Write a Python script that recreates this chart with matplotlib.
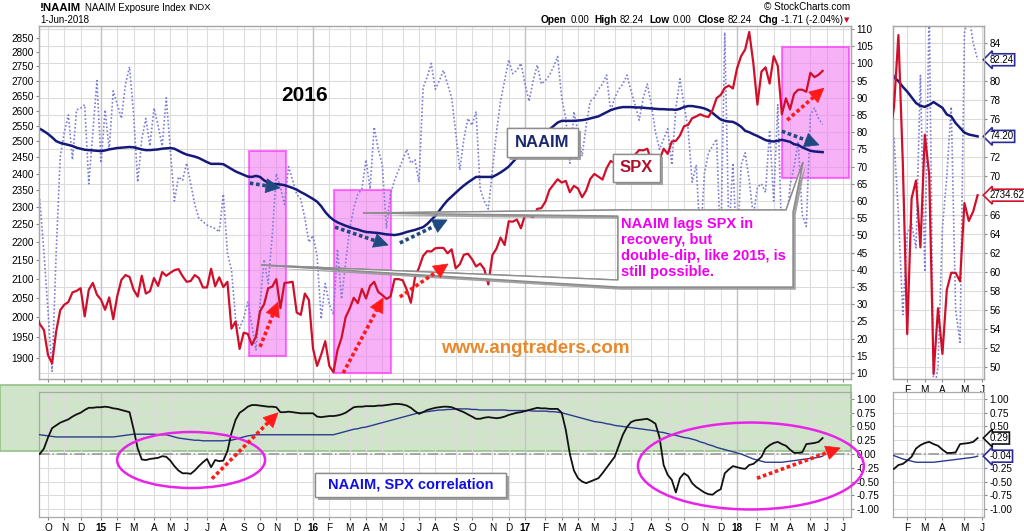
import datetime as dt
import matplotlib
matplotlib.use('Agg')
import matplotlib.pyplot as plt
import matplotlib.patches as mpatches
import matplotlib.patheffects as pe
from matplotlib.ticker import FixedLocator, FixedFormatter, NullLocator
import numpy as np

plt.rcParams['font.family'] = ['Liberation Sans', 'DejaVu Sans']

# weekly data, first point = Friday 19-Sep-2014, last = 1-Jun-2018
first_friday = dt.date(2014, 9, 19)

spx = [2010, 1982, 1968, 1906, 1886, 1964, 2018, 2032, 2039, 2064, 2068, 2075, 2002, 2071, 2089, 2058,
       2045, 2019, 2051, 1995, 2055, 2097, 2110, 2105, 2071, 2053, 2108, 2061, 2067, 2102, 2081, 2118,
       2108, 2116, 2123, 2126, 2107, 2092, 2094, 2110, 2102, 2077, 2077, 2127, 2080, 2104, 2078, 2092,
       1971, 1989, 1921, 1961, 1958, 1931, 1951, 2015, 2033, 2075, 2079, 2099, 2023, 2089, 2090, 2092,
       2012, 2006, 2061, 2044, 1922, 1880, 1907, 1940, 1880, 1865, 1918, 1948, 2000, 2022, 2050, 2036,
       2073, 2048, 2081, 2092, 2065, 2057, 2047, 2053, 2099, 2099, 2096, 2071, 2037, 2103, 2130, 2162,
       2175, 2174, 2183, 2184, 2184, 2169, 2180, 2128, 2139, 2165, 2168, 2153, 2133, 2141, 2126, 2085,
       2164, 2182, 2213, 2192, 2259, 2258, 2264, 2239, 2277, 2275, 2271, 2295, 2297, 2316, 2351, 2367,
       2383, 2373, 2378, 2344, 2363, 2355, 2329, 2349, 2384, 2399, 2391, 2382, 2416, 2439, 2432, 2433,
       2438, 2423, 2425, 2459, 2473, 2472, 2477, 2441, 2426, 2443, 2477, 2461, 2500, 2502, 2519, 2549,
       2553, 2575, 2581, 2588, 2582, 2579, 2602, 2642, 2652, 2676, 2684, 2674, 2743, 2786, 2810, 2873,
       2762, 2620, 2732, 2747, 2691, 2786, 2752, 2588, 2641, 2604, 2656, 2670, 2670, 2663, 2728, 2713,
       2721, 2734.62]

naaim = [66, 60, 45, 28, 10.5, 45, 73, 80, 85, 72, 86.5, 87, 88, 65, 80, 95,
         71, 86.5, 75, 92, 88, 84, 94, 99, 85, 65.5, 78, 84, 76, 87, 82, 76,
         90, 75, 60, 67, 66, 71, 65, 59, 55, 54, 53, 52.5, 52, 51, 62, 45,
         40, 25.7, 23, 26, 30.6, 24, 16.7, 30, 43, 36, 50, 68, 64, 59, 70, 66,
         62, 60.5, 55, 48, 50, 44, 25.7, 36, 30, 27, 46, 31.5, 42, 52, 58, 62,
         63.5, 72, 63.5, 81.5, 75, 70.5, 52, 62, 66, 69, 72, 75, 71, 72, 65.5, 93,
         96, 100, 92.5, 95, 98, 94, 90, 80, 69, 78, 84, 82, 86, 63.5, 60, 57.7,
         69, 80, 89, 95, 101, 97, 98, 100, 94, 89, 95, 99.5, 94, 95, 96.6, 99,
         102, 90, 84, 71, 86, 80, 73, 82, 89, 90, 92.5, 94, 96.6, 86, 90, 92.5,
         94, 96.6, 92, 88, 83.5, 90, 94, 88, 80, 75, 78, 81, 70.5, 87, 95.5, 88,
         81, 65.5, 70.5, 48, 68, 74, 76, 78, 45, 109, 50, 71, 44, 70.5, 74, 66,
         55.5, 64, 65, 62.5, 80.6, 60, 88, 47, 50, 64.6, 70, 77.3, 56, 52.6, 85, 87,
         84, 82.24]

naaim_ma = [81.5, 81, 80.3, 79.5, 78.5, 77.4, 76.9, 76.6, 76.3, 76, 75.5, 75.2, 74.9, 74.8, 74.7, 74.6,
            74.5, 74.7, 75, 75.2, 75.4, 75.5, 75.6, 75.7, 75.6, 75.3, 75, 74.8, 74.8, 74.9, 75, 75.2,
            75.3, 75.4, 75.2, 74.6, 74, 73.5, 73.2, 72.9, 72.5, 71.9, 71.3, 70.8, 70.8, 70.8, 70.7, 70,
            69.3, 68.6, 68.1, 67.6, 67.1, 67, 67.3, 67, 66, 65.3, 65, 64.9, 64.8, 64.6, 64.2, 63.8,
            63.3, 62.6, 62, 61.3, 60.6, 59.8, 58.5, 56.8, 55.5, 54.5, 53.8, 53.3, 52.8, 52.4, 52, 51.7,
            51.3, 51, 50.9, 50.8, 50.7, 50.5, 50.3, 50.2, 50.1, 50.3, 50.6, 51, 51.3, 51.6, 52, 52.4,
            53.3, 54.5, 55.7, 57.2, 58.8, 60.2, 61.3, 62.4, 63.5, 64.5, 65.4, 66.2, 67, 67, 67, 67,
            67, 67.6, 68.3, 69.1, 70, 71.3, 72.6, 73.6, 75, 76.2, 77.2, 78.2, 79, 79.8, 80.8, 81.8,
            82.8, 83.3, 83.3, 83.3, 83.3, 83.4, 83.5, 83.7, 84, 84.3, 84.6, 85.2, 85.8, 86.4, 86.8, 87.1,
            87.3, 87.3, 87.3, 87.2, 87.2, 87.1, 87, 86.9, 86.8, 86.7, 86.7, 86.6, 86.6, 86.5, 86.8, 87.3,
            87.6, 87.6, 87.4, 87.2, 86.9, 86.4, 85.6, 84.6, 83.7, 83.3, 83.1, 83, 82.4, 81.6, 80.4, 80,
            79.4, 78.9, 78.3, 77.7, 77.4, 77.3, 77.5, 77.8, 77.5, 77.2, 76.5, 76.3, 75.6, 75.1, 74.6, 74.4,
            74.3, 74.2]

corr_short = [0, 0, 0.1, 0.3, 0.47, 0.52, 0.57, 0.6, 0.63, 0.68, 0.72, 0.75, 0.8, 0.84, 0.84, 0.85,
              0.85, 0.86, 0.85, 0.83, 0.82, 0.8, 0.78, 0.76, 0.45, 0.1, -0.1, -0.11, -0.09, -0.08, -0.07, -0.04,
              -0.05, -0.12, -0.22, -0.3, -0.35, -0.35, -0.36, -0.3, -0.22, -0.15, -0.09, -0.24, -0.11, -0.13, -0.12, 0.05,
              0.38, 0.62, 0.75, 0.8, 0.86, 0.89, 0.89, 0.88, 0.87, 0.86, 0.86, 0.85, 0.76, 0.76, 0.77, 0.76,
              0.75, 0.74, 0.74, 0.74, 0.74, 0.68, 0.67, 0.68, 0.69, 0.69, 0.7, 0.72, 0.75, 0.8, 0.85, 0.86,
              0.86, 0.87, 0.87, 0.87, 0.88, 0.88, 0.89, 0.9, 0.91, 0.91, 0.9, 0.88, 0.84, 0.78, 0.73, 0.76,
              0.8, 0.82, 0.84, 0.85, 0.86, 0.86, 0.85, 0.82, 0.79, 0.76, 0.72, 0.68, 0.64, 0.64, 0.66, 0.67,
              0.66, 0.65, 0.66, 0.68, 0.71, 0.73, 0.75, 0.76, 0.78, 0.8, 0.82, 0.84, 0.83, 0.83, 0.82, 0.82,
              0.82, 0.75, 0.44, 0.0, -0.3, -0.44, -0.5, -0.53, -0.5, -0.47, -0.44, -0.35, -0.25, -0.15, -0.05, 0.15,
              0.35, 0.49, 0.58, 0.61, 0.62, 0.63, 0.64, 0.6, 0.55, 0.3, -0.2, -0.38, -0.47, -0.7, -0.44, -0.35,
              -0.4, -0.53, -0.6, -0.65, -0.7, -0.73, -0.74, -0.68, -0.64, -0.35, -0.28, -0.22, -0.24, -0.26, -0.27, -0.2,
              -0.18, -0.12, -0.05, 0.1, 0.16, 0.2, 0.22, 0.18, 0.15, 0.08, 0.02, 0.02, 0.03, 0.18, 0.19, 0.2,
              0.22, 0.29]

corr_long = [0.35, 0.35, 0.34, 0.33, 0.32, 0.31, 0.31, 0.31, 0.31, 0.31, 0.31, 0.31, 0.31, 0.31, 0.31, 0.31,
             0.31, 0.31, 0.31, 0.31, 0.32, 0.33, 0.34, 0.35, 0.36, 0.36, 0.36, 0.36, 0.36, 0.36, 0.35, 0.35,
             0.35, 0.33, 0.31, 0.29, 0.28, 0.27, 0.26, 0.25, 0.25, 0.24, 0.24, 0.24, 0.24, 0.24, 0.24, 0.25,
             0.25, 0.27, 0.29, 0.31, 0.33, 0.34, 0.35, 0.35, 0.35, 0.35, 0.35, 0.35, 0.35, 0.35, 0.35, 0.35,
             0.35, 0.35, 0.35, 0.35, 0.35, 0.35, 0.35, 0.35, 0.35, 0.35, 0.37, 0.39, 0.41, 0.43, 0.45, 0.46,
             0.48, 0.49, 0.51, 0.53, 0.55, 0.57, 0.59, 0.61, 0.63, 0.65, 0.67, 0.69, 0.71, 0.73, 0.75, 0.76,
             0.77, 0.78, 0.79, 0.8, 0.8, 0.81, 0.81, 0.82, 0.82, 0.82, 0.82, 0.81, 0.81, 0.8, 0.8, 0.8,
             0.8, 0.8, 0.8, 0.8, 0.79, 0.79, 0.79, 0.79, 0.79, 0.79, 0.78, 0.78, 0.78, 0.78, 0.77, 0.77,
             0.76, 0.75, 0.73, 0.71, 0.69, 0.67, 0.65, 0.63, 0.61, 0.59, 0.58, 0.57, 0.55, 0.54, 0.52, 0.51,
             0.5, 0.49, 0.48, 0.47, 0.46, 0.45, 0.44, 0.43, 0.42, 0.4, 0.39, 0.37, 0.35, 0.34, 0.32, 0.3,
             0.29, 0.27, 0.25, 0.22, 0.2, 0.17, 0.15, 0.12, 0.1, 0.08, 0.06, 0.04, 0.02, 0, -0.03, -0.06,
             -0.09, -0.11, -0.13, -0.15, -0.15, -0.15, -0.15, -0.15, -0.14, -0.13, -0.12, -0.11, -0.1, -0.09, -0.08, -0.07,
             -0.06, -0.04]

naaim_ticks = list(range(10, 111, 5))
spx_ticks = list(range(1900, 2851, 50))
naaim_small_ticks = list(range(50, 85, 2))
corr_ticks = [1.0, 0.75, 0.5, 0.25, 0.0, -0.25, -0.5, -0.75, -1.0]

weeks = np.arange(len(spx))

# month labels: placed on the first weekly bar whose week starts in that month
month_k, month_txt, month_bold = [], [], []
for k in range(1, 200):
    mon = first_friday + dt.timedelta(days=7 * k - 4)
    prev = first_friday + dt.timedelta(days=7 * (k - 1) - 4)
    if mon.month != prev.month:
        month_k.append(k)
        if mon.month == 1:
            month_txt.append(str(mon.year)[2:])
            month_bold.append(True)
        else:
            month_txt.append('JFMAMJJASOND'[mon.month - 1])
            month_bold.append(False)

W, H = 1024, 531
fig = plt.figure(figsize=(W / 100, H / 100), dpi=100)
fig.patch.set_facecolor('white')


def px_box(l, t, r, b):
    return [l / W, 1 - b / H, (r - l) / W, (b - t) / H]


GRID = '#dcdcdc'
SPINE = '#a8a8a8'
RED = '#d0102b'
NAVY = '#151a7a'
DOT = '#7b7bd8'
TICK_FS = 7.2


def style_axis(a):
    for s in a.spines.values():
        s.set_color(SPINE)
        s.set_linewidth(0.9)
    a.tick_params(axis='both', labelsize=TICK_FS, length=2, color='#888888', pad=2)


def month_axis(a, lo, hi):
    ks = [k for k in month_k if lo <= k <= hi]
    a.set_xticks(ks)
    a.set_xticklabels([month_txt[month_k.index(k)] for k in ks])
    for lab, k in zip(a.get_xticklabels(), ks):
        if month_bold[month_k.index(k)]:
            lab.set_fontweight('bold')
            lab.set_fontsize(8)
    a.xaxis.grid(True, color=GRID, lw=0.8)
    for k in ks:
        if month_bold[month_k.index(k)]:
            a.axvline(k, color='#c4c4c4', lw=1.0, zorder=0.6)


def dash_arrow(a, p0, p1, color):
    # dotted shaft plus a solid triangular head, built in pixel space
    t = a.transData
    d0, d1 = t.transform(p0), t.transform(p1)
    u = (d1 - d0) / np.hypot(*(d1 - d0))
    nrm = np.array([-u[1], u[0]])
    base = d1 - u * 14
    tri = t.inverted().transform([d1, base + nrm * 7, base - nrm * 7])
    b = t.inverted().transform(base)
    a.plot([p0[0], b[0]], [p0[1], b[1]], color=color, lw=2.6, ls=(0, (1, 0.75)),
           clip_on=False, zorder=7)
    a.add_patch(mpatches.Polygon(tri, closed=True, fc=color, ec=color, lw=0.5, zorder=7, clip_on=False))


def label_box(a, k0, k1, v0, v1, text, color, size):
    r = mpatches.Rectangle((k0, v0), k1 - k0, v1 - v0, fc='white', ec='#8c8c8c', lw=1.0, zorder=5)
    r.set_path_effects([pe.withSimplePatchShadow(offset=(2, -2), shadow_rgbFace='#9a9a9a', alpha=0.9),
                        pe.Normal()])
    a.add_patch(r)
    a.text((k0 + k1) / 2, (v0 + v1) / 2, text, color=color, fontsize=size, fontweight='bold',
           ha='center', va='center', zorder=6)


def value_tag(a, val, text, ec):
    a.annotate(text, xy=(1, val), xycoords=('axes fraction', 'data'), xytext=(4, 0),
               textcoords='offset points', ha='left', va='center', fontsize=7, zorder=10,
               annotation_clip=False,
               bbox=dict(boxstyle='larrow,pad=0.1', fc='white', ec=ec, lw=1.2))


def tick_labels(vals, fmt, hidden):
    # labels sitting under a value tag are covered in the original
    return [('' if v in hidden else fmt % v) for v in vals]


# ---------------- main panel ----------------
xlim_main = (0.79, 199.96)
ax = fig.add_axes(px_box(39, 26, 851, 379))
axs = ax.twinx()
ax.set_xlim(*xlim_main)
ax.set_ylim(8.26, 110.87)
ax.yaxis.tick_right()
ax.set_yticks(naaim_ticks)
ax.yaxis.grid(True, color=GRID, lw=0.8)
ax.set_axisbelow(True)
month_axis(ax, *xlim_main)
style_axis(ax)

# highlight boxes
for (k0, k1, n0, n1) in [(52.3, 61.4, 14.9, 74.5), (73.2, 87.1, 10.0, 63.2), (183.0, 199.4, 66.7, 104.8)]:
    ax.add_patch(mpatches.Rectangle((k0, n0), k1 - k0, n1 - n0, fc='#f27ef2', alpha=0.6,
                                    ec='#ff20ff', lw=1.5, zorder=1.2))

ax.plot(weeks, naaim, color=DOT, lw=1.2, ls=(0, (1, 1.3)), zorder=2)
ax.plot(weeks, naaim_ma, color=NAVY, lw=1.8, zorder=3)

axs.set_yscale('log')
axs.set_ylim(1849, 2895)
axs.yaxis.tick_left()
axs.yaxis.set_major_locator(FixedLocator(spx_ticks))
axs.yaxis.set_major_formatter(FixedFormatter([str(v) for v in spx_ticks]))
axs.yaxis.set_minor_locator(NullLocator())
style_axis(axs)
axs.plot(weeks, spx, color=RED, lw=1.6, zorder=4)

# overlay for annotations (same coordinates as NAAIM axis)
ov = fig.add_axes(px_box(39, 26, 851, 379))
ov.set_xlim(*xlim_main)
ov.set_ylim(8.26, 110.87)
ov.axis('off')
ov.patch.set_visible(False)

BLUE_ARROW = '#1f4a80'
RED_ARROW = '#ff1a1a'
dash_arrow(ov, (52.5, 65.2), (59.9, 63.8), BLUE_ARROW)
dash_arrow(ov, (73.4, 52.4), (86.4, 47.2), BLUE_ARROW)
dash_arrow(ov, (89.3, 47.8), (100.9, 54.5), BLUE_ARROW)
dash_arrow(ov, (183.0, 80.3), (192.1, 76.3), BLUE_ARROW)
dash_arrow(ov, (55.0, 17.6), (59.4, 30.6), RED_ARROW)
dash_arrow(ov, (75.4, 10.0), (85.2, 31.8), RED_ARROW)
dash_arrow(ov, (89.3, 32.1), (101.1, 41.7), RED_ARROW)
dash_arrow(ov, (184.3, 83.5), (193.3, 92.8), RED_ARROW)

# callout with three pointers
callout = [(142.81, 57.38), (80.26, 56.51), (142.81, 55.64), (142.81, 37.03), (55.24, 41.40),
           (142.81, 35.0), (185.73, 35.0), (185.73, 56.8), (188.19, 71.34), (184.02, 57.38)]
poly = mpatches.Polygon(callout, closed=True, fc='white', ec='#8c8c8c', lw=1.0, zorder=5)
poly.set_path_effects([pe.withSimplePatchShadow(offset=(2, -2), shadow_rgbFace='#9a9a9a', alpha=0.9),
                       pe.Normal()])
ov.add_patch(poly)
ov.text(143.5, 46.3, 'NAAIM lags SPX in\nrecovery, but\ndouble-dip, like 2015, is\nstill possible.',
        color='#f000f0', fontsize=10.5, fontweight='bold', ha='left', va='center', zorder=6)

label_box(ov, 115.6, 133.0, 72.8, 81.2, 'NAAIM', '#1a2a6c', 12)
label_box(ov, 141.6, 153.1, 65.5, 73.7, 'SPX', '#b0102b', 12)
ov.text(66.0, 90.8, '2016', fontsize=15, fontweight='bold', ha='center', va='center')
ov.text(122.5, 17.0, 'www.angtraders.com', color='#e8892c', fontsize=13.5, fontweight='bold',
        ha='center', va='center')

# ---------------- small main panel ----------------
xlim_small = (173.77, 194.45)
axr = fig.add_axes(px_box(893, 26, 984, 379))
axrs = axr.twinx()
axr.set_xlim(*xlim_small)
axr.set_ylim(48.75, 85.78)
axr.yaxis.tick_right()
axr.set_yticks(naaim_small_ticks)
axr.set_yticklabels(tick_labels(naaim_small_ticks, '%d', (82, 74, 68)))
axr.yaxis.grid(True, color=GRID, lw=0.8)
axr.set_axisbelow(True)
month_axis(axr, *xlim_small)
style_axis(axr)
axr.plot(weeks, naaim, color=DOT, lw=1.2, ls=(0, (1, 1.3)), zorder=2)
axr.plot(weeks, naaim_ma, color=NAVY, lw=1.8, zorder=3)
axrs.set_yscale('log')
axrs.set_ylim(2584, 2881)
axrs.yaxis.set_major_locator(NullLocator())
axrs.yaxis.set_minor_locator(NullLocator())
style_axis(axrs)
axrs.plot(weeks, spx, color=RED, lw=1.6, zorder=4)

value_tag(axr, naaim[-1], '%.2f' % naaim[-1], '#2a2a9a')
value_tag(axr, naaim_ma[-1], '%.2f' % naaim_ma[-1], '#2a2a9a')
value_tag(axrs, spx[-1], '%.2f' % spx[-1], RED)

# ---------------- correlation panel ----------------
axl = fig.add_axes(px_box(39, 392, 851, 517))
axl.set_xlim(*xlim_main)
axl.set_ylim(-1.145, 1.127)
axl.yaxis.tick_right()
axl.set_yticks(corr_ticks)
axl.set_yticklabels(['%.2f' % v for v in corr_ticks])
axl.yaxis.grid(True, color=GRID, lw=0.8)
axl.set_axisbelow(True)
month_axis(axl, *xlim_main)
style_axis(axl)
band = mpatches.Rectangle((-39 / 812, 0.05), 1 + 39 / 812, 1.2, fc='#d0e4c9', ec='#93c387', lw=1.2,
                          transform=axl.get_yaxis_transform(), clip_on=False, zorder=0.3)
axl.add_patch(band)
axl.axhline(0, color='#9a9a9a', lw=1.2, ls='-.', zorder=1)
axl.plot(weeks, corr_long, color='#2b3c8f', lw=1.0, zorder=3)
axl.plot(weeks, corr_short, color='#111111', lw=1.3, zorder=4)
axl.add_patch(mpatches.Ellipse((38.1, -0.109), 36.3, 1.018, fill=False, ec='#e824e8', lw=1.8, zorder=5))
axl.add_patch(mpatches.Ellipse((175.4, -0.218), 55.4, 1.58, fill=False, ec='#e824e8', lw=1.8,
                               zorder=5, clip_on=False))
dash_arrow(axl, (43.2, -0.45), (59.4, 0.75), RED_ARROW)
dash_arrow(axl, (176.9, -0.44), (197.3, 0.11), RED_ARROW)
label_box(axl, 68.5, 115.3, -0.78, -0.345, 'NAAIM, SPX correlation', '#1010e0', 10.5)

# ---------------- small correlation panel ----------------
axrl = fig.add_axes(px_box(893, 392, 984, 517))
axrl.set_xlim(*xlim_small)
axrl.set_ylim(-1.145, 1.127)
axrl.yaxis.tick_right()
axrl.set_yticks(corr_ticks)
axrl.set_yticklabels(tick_labels(corr_ticks, '%.2f', (0.25, 0.0)))
axrl.yaxis.grid(True, color=GRID, lw=0.8)
axrl.set_axisbelow(True)
month_axis(axrl, *xlim_small)
style_axis(axrl)
axrl.axhline(0, color='#9a9a9a', lw=1.2, ls='-.', zorder=1)
axrl.plot(weeks, corr_long, color='#2b3c8f', lw=1.0, zorder=3)
axrl.plot(weeks, corr_short, color='#111111', lw=1.3, zorder=4)
value_tag(axrl, corr_short[-1], '%.2f' % corr_short[-1], '#111111')
value_tag(axrl, corr_long[-1], '%.2f' % corr_long[-1], '#2a2a9a')

# ---------------- header ----------------
fig.text(40 / W, 1 - 8 / H, '!NAAIM', fontsize=8.2, fontweight='bold', va='center')
fig.text(85 / W, 1 - 8 / H, 'NAAIM Exposure Index', fontsize=7, va='center')
fig.text(188 / W, 1 - 8 / H, 'INDX', fontsize=6.8, va='center')
fig.text(40 / W, 1 - 20 / H, '1-Jun-2018', fontsize=7, va='center')
fig.text(850 / W, 1 - 7 / H, '\u00a9 StockCharts.com', fontsize=7.2, va='center', ha='right')
header = [(541, 'Open', True), (571, '0.00', False), (594, 'High', True), (620, '82.24', False),
          (649, 'Low', True), (673, '0.00', False), (698, 'Close', True), (728, '82.24', False),
          (759, 'Chg', True), (781, '-1.71 (-2.04%)', False)]
for x, t, b in header:
    fig.text(x / W, 1 - 20 / H, t, fontsize=7.3 if b else 7, fontweight='bold' if b else 'normal',
             va='center')
fig.text(844 / W, 1 - 20 / H, '\u25bc', fontsize=5, color='#c0102b', va='center',
         family=['DejaVu Sans'])

fig.savefig('out.png', dpi=100, facecolor='white')
